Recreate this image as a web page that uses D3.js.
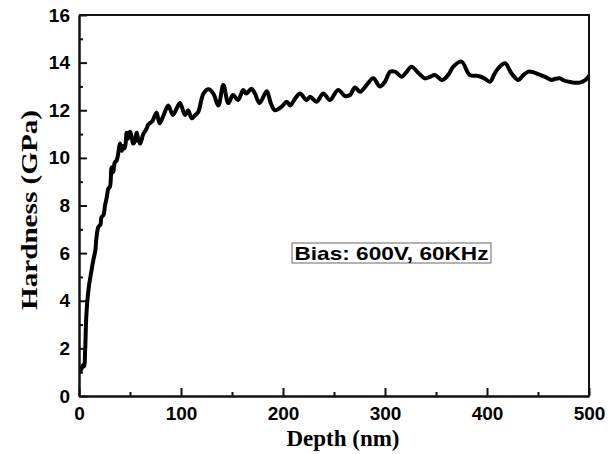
<!DOCTYPE html>
<html>
<head>
<meta charset="utf-8">
<script src="https://cdn.jsdelivr.net/npm/d3@7"></script>
<style>
  body { margin: 0; background: #fff; }
  .tick text { font-family: "Liberation Sans", Arial, sans-serif; font-weight: bold; font-size: 19px; fill: #000; }
  .axisTitle { font-family: "Liberation Serif", "Times New Roman", serif; font-weight: bold; font-size: 23px; fill: #000; }
</style>
</head>
<body>
<svg id="chart" width="608" height="454"></svg>
<script>
// Values.
var depth = [0, 2, 4, 5, 6, 7, 8, 10, 12, 14, 16, 17, 19, 21, 22, 24, 25.5, 27, 28.7, 30.4,
    32, 33.6, 35, 37, 38.5, 40.2, 42, 43.4, 45, 46.7, 48, 50, 51.6, 53, 55, 56.5, 58, 60,
    63, 66, 68, 72, 76, 79, 83, 87.5, 92, 96, 99, 104, 107, 110.5, 114, 117, 122, 127,
    131.7, 136.6, 141.5, 146.4, 151, 156, 161, 164, 169, 172.5, 177, 184, 188, 192, 198.7,
    203.6, 207, 212, 216.7, 223, 226.5, 233, 239.5, 246, 254, 260.8, 265.7, 270.6, 275.5,
    282, 288.5, 295, 300, 305, 309.8, 316.4, 321, 326, 332, 339, 344, 349, 355.6, 359, 363,
    367, 375, 383, 391.5, 397, 403, 407, 411, 417.6, 424, 430.7, 435, 440.5, 445, 450, 457,
    463.4, 467, 471.6, 475, 479.7, 485, 491, 496, 500];
var hardness = [1.0, 1.1, 1.3, 1.25, 1.9, 3.2, 3.9, 4.7, 5.2, 5.7, 6.1, 6.6, 7.1, 7.2, 7.5, 7.6, 8.0, 8.3, 8.7, 8.8,
    9.6, 9.4, 9.8, 9.9, 10.2, 10.6, 10.3, 10.5, 10.4, 11.05, 10.8, 11.1, 10.9, 10.6, 10.7, 11.05, 10.8, 10.6,
    11.0, 11.2, 11.4, 11.55, 11.9, 11.45, 11.8, 12.2, 11.8, 12.1, 12.3, 11.8, 12.0, 11.66, 11.8, 11.94, 12.7, 12.88,
    12.7, 12.2, 13.06, 12.3, 12.64, 12.43, 12.85, 12.7, 12.9, 12.7, 12.3, 12.8, 12.3, 12.0, 12.15,
    12.36, 12.2, 12.5, 12.7, 12.43, 12.57, 12.36, 12.7, 12.43, 12.85, 12.6, 12.64, 12.96, 12.78,
    13.06, 13.34, 13.0, 13.2, 13.62, 13.62, 13.41, 13.6, 13.83, 13.6, 13.34, 13.4, 13.48, 13.27, 13.34, 13.55,
    13.83, 14.04, 13.48, 13.44, 13.35, 13.2, 13.5, 13.76, 13.97, 13.55, 13.27, 13.45, 13.62, 13.6, 13.52, 13.4,
    13.27, 13.32, 13.34, 13.26, 13.2, 13.16, 13.16, 13.25, 13.44];
var xMajorTicks = [0, 100, 200, 300, 400, 500];
var xMinorTicks = [50, 150, 250, 350, 450];
var yMajorTicks = [0, 2, 4, 6, 8, 10, 12, 14, 16];
var yMinorTicks = [1, 3, 5, 7, 9, 11, 13, 15];
var legendText = 'Bias: 600V, 60KHz';

var svg = d3.select('#chart'),
    plot = { left: 79, right: 589, top: 15, bottom: 396 },
    x = d3.scaleLinear().domain([0, 500]).range([plot.left, plot.right]),
    y = d3.scaleLinear().domain([0, 16]).range([plot.bottom, plot.top]);

// Curve first, frame on top.
var points = depth.map((d, i) => [d, hardness[i]]);
svg.append('defs').append('clipPath').attr('id', 'plotClip')
    .append('rect')
    .attr('x', plot.left).attr('y', plot.top)
    .attr('width', plot.right - plot.left).attr('height', plot.bottom - plot.top);

svg.append('path')
    .datum(points)
    .attr('clip-path', 'url(#plotClip)')
    .attr('fill', 'none')
    .attr('stroke', '#000')
    .attr('stroke-width', 4)
    .attr('stroke-linejoin', 'round')
    .attr('stroke-linecap', 'round')
    .attr('d', d3.line().curve(d3.curveCatmullRom.alpha(0.5)).x(d => x(d[0])).y(d => y(d[1])));

// Axes (ticks point inward).
var styleAxis = function (g) {
    g.selectAll('path, line').attr('stroke', '#111').attr('stroke-width', 2);
};

svg.append('g')
    .attr('transform', 'translate(0,' + plot.bottom + ')')
    .call(d3.axisBottom(x).tickValues(xMinorTicks).tickSize(-4).tickSizeOuter(0).tickFormat(''))
    .call(styleAxis);
svg.append('g')
    .attr('transform', 'translate(0,' + plot.bottom + ')')
    .call(d3.axisBottom(x).tickValues(xMajorTicks).tickSize(-8).tickSizeOuter(0).tickPadding(11).tickFormat(d3.format('d')))
    .call(styleAxis);

svg.append('g')
    .attr('transform', 'translate(' + plot.left + ',0)')
    .call(d3.axisLeft(y).tickValues(yMinorTicks).tickSize(-4).tickSizeOuter(0).tickFormat(''))
    .call(styleAxis);
svg.append('g')
    .attr('transform', 'translate(' + plot.left + ',0)')
    .call(d3.axisLeft(y).tickValues(yMajorTicks).tickSize(-8).tickSizeOuter(0).tickPadding(9).tickFormat(d3.format('d')))
    .call(styleAxis);

// Top and right border.
svg.append('path')
    .attr('d', 'M' + plot.left + ',' + plot.top + 'H' + plot.right + 'V' + plot.bottom)
    .attr('fill', 'none')
    .attr('stroke', '#111')
    .attr('stroke-width', 2);

// Axis titles.
svg.append('text')
    .attr('class', 'axisTitle')
    .attr('x', 343).attr('y', 446)
    .attr('text-anchor', 'middle')
    .text('Depth (nm)');

svg.append('text')
    .attr('class', 'axisTitle')
    .attr('transform', 'translate(36.5,210) rotate(-90)')
    .attr('text-anchor', 'middle')
    .attr('textLength', 200)
    .attr('lengthAdjust', 'spacingAndGlyphs')
    .text('Hardness (GPa)');

// Legend box.
var legend = svg.append('g');
legend.append('rect')
    .attr('x', 292).attr('y', 243)
    .attr('width', 199).attr('height', 20)
    .attr('fill', '#fff')
    .attr('stroke', '#666')
    .attr('stroke-width', 1);
legend.append('text')
    .attr('x', 391.5).attr('y', 259.5)
    .attr('text-anchor', 'middle')
    .attr('textLength', 194)
    .attr('lengthAdjust', 'spacingAndGlyphs')
    .style('font-family', '"Liberation Sans", Arial, sans-serif')
    .style('font-weight', 'bold')
    .style('font-size', '18.5px')
    .text(legendText);
</script>
</body>
</html>
